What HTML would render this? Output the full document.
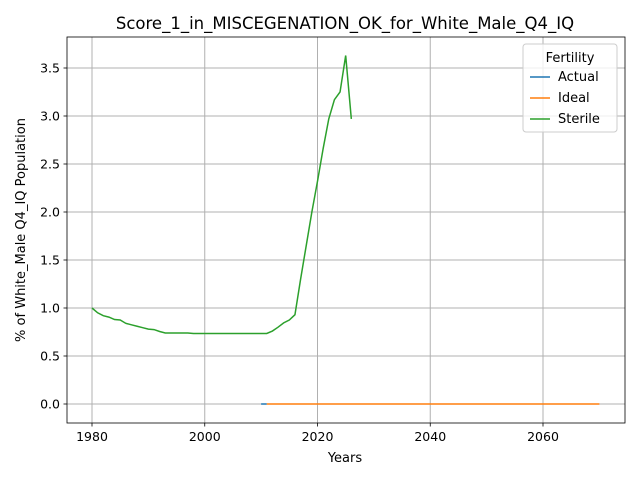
<!DOCTYPE html>
<html><head><meta charset="utf-8"><style>
body{margin:0;background:#fff;}
svg text{font-family:"DejaVu Sans","Liberation Sans",sans-serif;fill:#000;}
</style></head><body>
<svg id="chart" width="640" height="480">
<rect width="640" height="480" fill="#fff"/>
<g id="grid"></g>
<g id="series"></g>
<rect x="67" y="37" width="558" height="386" fill="none" stroke="#000" stroke-width="0.8"/>
<g id="axes"></g>
<text x="345" y="29" text-anchor="middle" font-size="16.5">Score_1_in_MISCEGENATION_OK_for_White_Male_Q4_IQ</text>
<text x="345" y="462" text-anchor="middle" font-size="13">Years</text>
<text transform="translate(25,230) rotate(-90)" text-anchor="middle" font-size="13">% of White_Male Q4_IQ Population</text>
<g>
<rect x="523" y="44" width="94" height="88" rx="3" fill="#fff" fill-opacity="0.8" stroke="#ccc"/>
<text x="570" y="62" text-anchor="middle" font-size="13">Fertility</text>
<g><line x1="530" y1="77" x2="550" y2="77" stroke="#1f77b4" stroke-width="1.5"/><text x="558" y="81" font-size="13">Actual</text></g>
<g><line x1="530" y1="98" x2="550" y2="98" stroke="#ff7f0e" stroke-width="1.5"/><text x="558" y="102" font-size="13">Ideal</text></g>
<g><line x1="530" y1="119" x2="550" y2="119" stroke="#2ca02c" stroke-width="1.5"/><text x="558" y="123" font-size="13">Sterile</text></g>
</g>
</svg>
<script>
const xTicks=[1980,2000,2020,2040,2060];
const yTicks=[0.0,0.5,1.0,1.5,2.0,2.5,3.0,3.5];
const actualYears=[2010,2011];
const actualValues=[0,0];
const idealYears=[2011,2070];
const idealValues=[0,0];
const sterileYears=[1980,1981,1982,1983,1984,1985,1986,1987,1988,1989,1990,1991,1992,1993,1994,1995,1996,1997,1998,2000,2005,2010,2011,2012,2013,2014,2015,2016,2017,2018,2019,2020,2021,2022,2023,2024,2025,2026];
const sterileValues=[1.0,0.95,0.92,0.905,0.88,0.875,0.84,0.825,0.81,0.795,0.78,0.775,0.755,0.74,0.74,0.74,0.74,0.74,0.735,0.735,0.735,0.735,0.735,0.76,0.8,0.845,0.875,0.93,1.3,1.65,2.0,2.32,2.66,2.97,3.17,3.25,3.63,2.97];
const NS='http://www.w3.org/2000/svg';
function xs(v){return 92+(v-1980)*(112.75/20);}
function ys(v){return 404-v*96;}
const grid=document.getElementById('grid'),axes=document.getElementById('axes'),ser=document.getElementById('series');
function mk(tag,attrs,parent){const e=document.createElementNS(NS,tag);for(const k in attrs)e.setAttribute(k,attrs[k]);parent.appendChild(e);return e;}
xTicks.forEach(t=>{const x=xs(t);
const g=mk('line',{x1:x,x2:x,y1:37,y2:423,stroke:'#b0b0b0','stroke-width':1},grid);


mk('line',{x1:x,x2:x,y1:423,y2:426.5,stroke:'#000','stroke-width':0.8},axes);
const tx=mk('text',{x:x,y:441,'text-anchor':'middle','font-size':12.5},axes);tx.textContent=t;

});
yTicks.forEach(t=>{const y=ys(t);
const g=mk('line',{x1:67,x2:625,y1:y,y2:y,stroke:'#b0b0b0','stroke-width':1},grid);


mk('line',{x1:63.5,x2:67,y1:y,y2:y,stroke:'#000','stroke-width':0.8},axes);
const tx=mk('text',{x:60,y:y+4.5,'text-anchor':'end','font-size':12.5},axes);tx.textContent=t.toFixed(1);

});
function line(xa,ya,color,name){const p=mk('polyline',{points:xa.map((x,i)=>xs(x)+','+ys(ya[i])).join(' '),fill:'none',stroke:color,'stroke-width':1.5},ser);

}
line(actualYears,actualValues,'#1f77b4','actual-line');
line(idealYears,idealValues,'#ff7f0e','ideal-line');
line(sterileYears,sterileValues,'#2ca02c','sterile-line');
</script>
</body></html>
